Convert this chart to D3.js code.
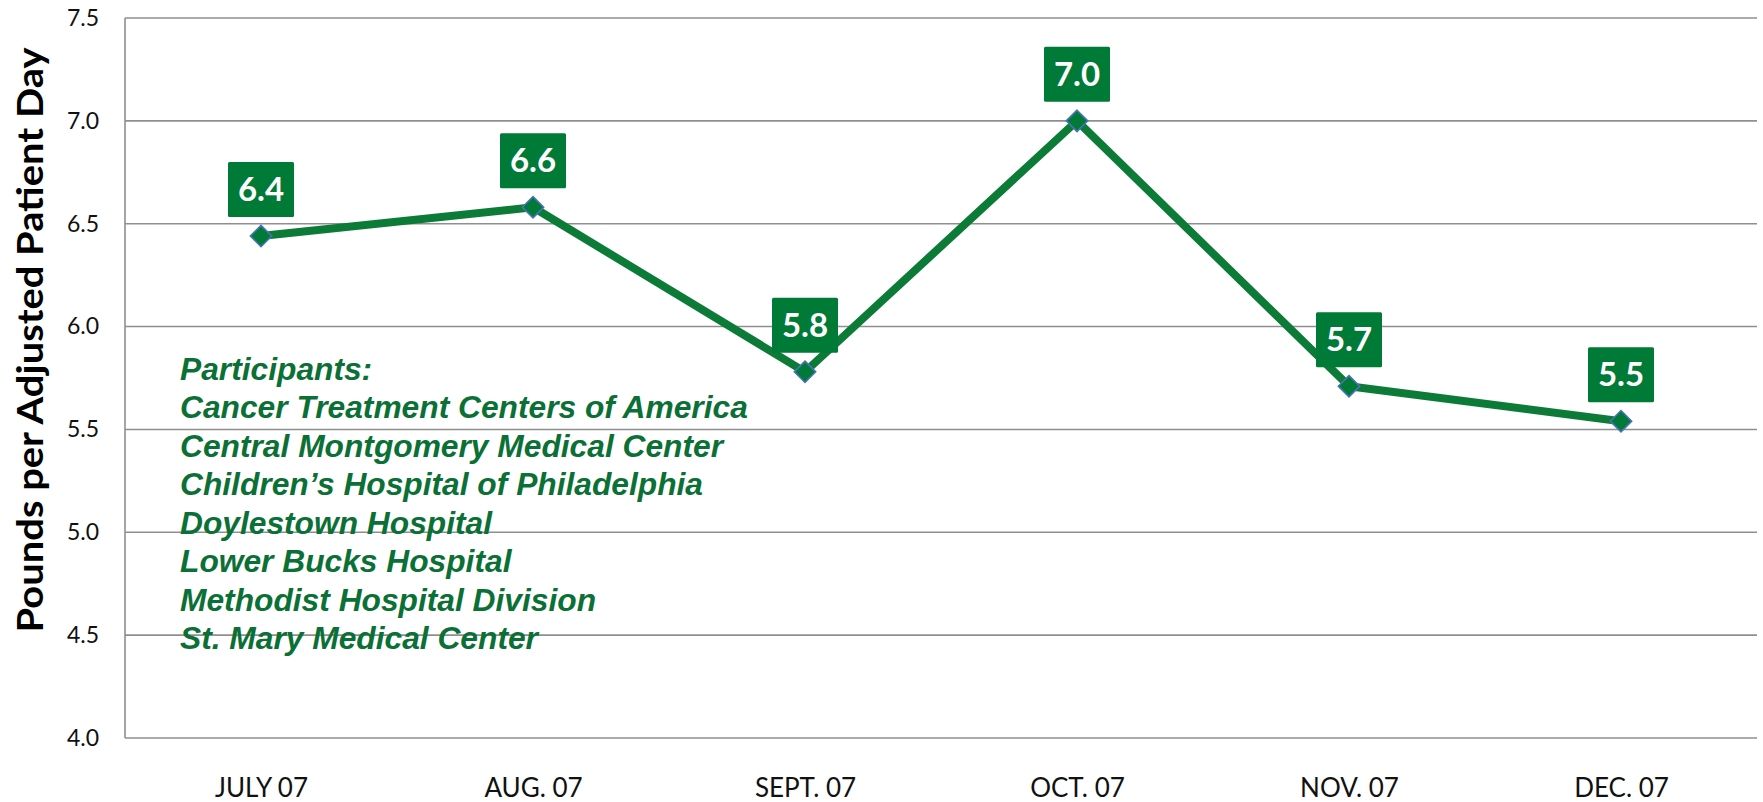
<!DOCTYPE html>
<html>
<head>
<meta charset="utf-8">
<script src="https://cdn.jsdelivr.net/npm/d3@7"></script>
<style>
  html, body { margin: 0; padding: 0; background: #fff; }
  svg { display: block; }
</style>
</head>
<body>
<svg id="chart"></svg>
<script>
// chart data
const months = ["JULY 07", "AUG. 07", "SEPT. 07", "OCT. 07", "NOV. 07", "DEC. 07"];
const pounds = [6.44, 6.58, 5.78, 7.0, 5.71, 5.54];
const yTicks = [4.0, 4.5, 5.0, 5.5, 6.0, 6.5, 7.0, 7.5];
const participants = [
    "Participants:",
    "Cancer Treatment Centers of America",
    "Central Montgomery Medical Center",
    "Children\u2019s Hospital of Philadelphia",
    "Doylestown Hospital",
    "Lower Bucks Hospital",
    "Methodist Hospital Division",
    "St. Mary Medical Center"
];

const GREEN = "#007a37";
const LINE_GREEN = "#0c7b37";
const TEXT_GREEN = "#0b7036";
const GRID = "#8f8f8f";

let width = 1763,
    height = 802;
const margin = { top: 18, right: 6, bottom: 64, left: 125 };

const svg = d3.select("#chart")
    .attr("width", width)
    .attr("height", height);

const x = d3.scalePoint()
    .domain(months)
    .range([margin.left, width - margin.right])
    .padding(0.5);

const y = d3.scaleLinear()
    .domain([4.0, 7.5])
    .range([height - margin.bottom, margin.top]);

// gridlines
svg.append("g")
    .attr("class", "grid")
    .selectAll("line")
    .data(yTicks)
    .enter().append("line")
    .attr("x1", margin.left)
    .attr("x2", width - margin.right)
    .attr("y1", d => y(d))
    .attr("y2", d => y(d))
    .attr("stroke", GRID)
    .attr("stroke-width", 1.6);

// left axis line
svg.append("line")
    .attr("x1", margin.left).attr("x2", margin.left)
    .attr("y1", y(7.5)).attr("y2", y(4.0))
    .attr("stroke", GRID)
    .attr("stroke-width", 1.6);

// y tick labels
const yAxis = svg.append("g")
    .attr("transform", `translate(${margin.left},0)`)
    .call(d3.axisLeft(y).tickValues(yTicks).tickFormat(d3.format(".1f")).tickSize(0).tickPadding(26));
yAxis.select(".domain").remove();
yAxis.selectAll("text")
    .attr("font-family", "Lato, 'Open Sans', sans-serif")
    .attr("font-size", 23)
    .attr("fill", "#111");

// x tick labels
const xAxis = svg.append("g")
    .attr("transform", `translate(0,${y(4.0)})`)
    .call(d3.axisBottom(x).tickSize(0).tickPadding(41));
xAxis.select(".domain").remove();
xAxis.selectAll("text")
    .attr("font-family", "Lato, 'Open Sans', sans-serif")
    .attr("font-size", 26)
    .attr("fill", "#111");

// y axis title
svg.append("text")
    .attr("transform", "translate(43,340) rotate(-90)")
    .attr("text-anchor", "middle")
    .attr("font-family", "Lato, 'Open Sans', sans-serif")
    .attr("font-weight", "bold")
    .attr("font-size", 36)
    .attr("textLength", 585)
    .attr("lengthAdjust", "spacingAndGlyphs")
    .attr("fill", "#000")
    .text("Pounds per Adjusted Patient Day");

// participants note
const note = svg.append("g")
    .attr("class", "note");
const noteText = note.selectAll("text")
    .data(participants)
    .enter().append("text")
    .attr("x", 0)
    .attr("y", (d, i) => i * 38.5)
    .attr("font-family", "'Liberation Sans', Arial, sans-serif")
    .attr("font-weight", "bold")
    .attr("font-style", "italic")
    .attr("font-size", 31.5)
    .attr("fill", TEXT_GREEN)
    .text(d => d);
const longest = noteText.filter((d, i) => i === 1).node().getComputedTextLength();
const sx = 568 / longest;
note.attr("transform", `translate(180,380) scale(${sx},1)`);

// series line
const line = d3.line()
    .x((d, i) => x(months[i]))
    .y(d => y(d));

svg.append("path")
    .datum(pounds)
    .attr("d", line)
    .attr("fill", "none")
    .attr("stroke", LINE_GREEN)
    .attr("stroke-width", 8)
    .attr("stroke-linejoin", "round");

// diamond markers
svg.append("g")
    .selectAll("path")
    .data(pounds)
    .enter().append("path")
    .attr("d", d3.symbol().type(d3.symbolDiamond2).size(290))
    .attr("transform", (d, i) => `translate(${x(months[i])},${y(d)})`)
    .attr("fill", GREEN)
    .attr("stroke", "#4a72b8")
    .attr("stroke-width", 1.6);

// data labels
const labels = svg.append("g")
    .selectAll("g")
    .data(pounds)
    .enter().append("g")
    .attr("transform", (d, i) => `translate(${x(months[i])},${y(d) - 19})`);

labels.append("rect")
    .attr("x", -33)
    .attr("y", -55)
    .attr("width", 66)
    .attr("height", 55)
    .attr("rx", 1.5)
    .attr("fill", GREEN);

labels.append("text")
    .attr("x", 0)
    .attr("y", -16)
    .attr("text-anchor", "middle")
    .attr("font-family", "Lato, 'Open Sans', sans-serif")
    .attr("font-weight", "bold")
    .attr("font-size", 33)
    .attr("fill", "#fff")
    .text(d => d3.format(".1f")(d));
</script>
</body>
</html>
